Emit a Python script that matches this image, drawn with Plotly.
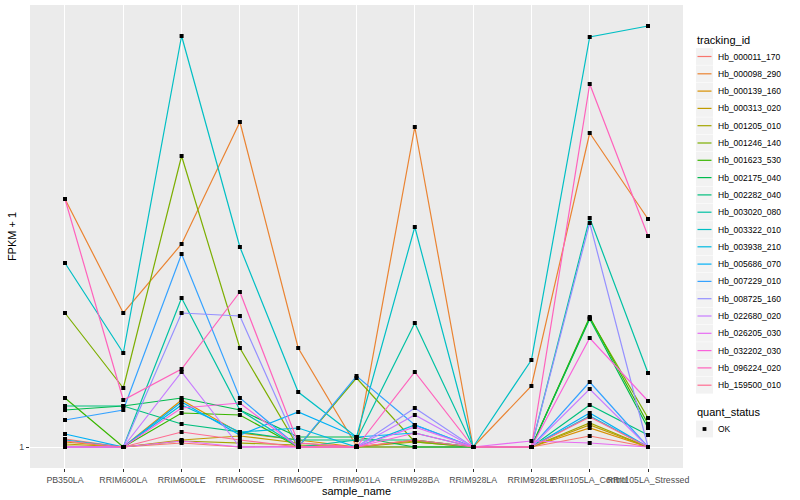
import plotly.graph_objects as go

samples = ["PB350LA", "RRIM600LA", "RRIM600LE", "RRIM600SE", "RRIM600PE", "RRIM901LA",
           "RRIM928BA", "RRIM928LA", "RRIM928LE", "RRII105LA_Control", "RRII105LA_Stressed"]

tracking_ids = ["Hb_000011_170", "Hb_000098_290", "Hb_000139_160", "Hb_000313_020", "Hb_001205_010",
                "Hb_001246_140", "Hb_001623_530", "Hb_002175_040", "Hb_002282_040", "Hb_003020_080",
                "Hb_003322_010", "Hb_003938_210", "Hb_005686_070", "Hb_007229_010", "Hb_008725_160",
                "Hb_022680_020", "Hb_026205_030", "Hb_032202_030", "Hb_096224_020", "Hb_159500_010"]

colors = ["#F8766D", "#EA8331", "#D89000", "#C09B00", "#A3A500", "#7CAE00", "#39B600", "#00BB4E",
          "#00BF7D", "#00C1A3", "#00BFC4", "#00BAE0", "#00B0F6", "#35A2FF", "#9590FF", "#C77CFF",
          "#E76BF3", "#FA62DB", "#FF62BC", "#FF6C91"]

Hb_000011_170 = [1.8, 1, 1.4, 1, 1.1, 1, 1, 1, 1, 2.1, 1]
Hb_000098_290 = [25.8, 14.4, 21.3, 33.5, 10.9, 1.1, 33.0, 1, 7.1, 32.4, 23.8]
Hb_000139_160 = [1.5, 1, 5.7, 2.4, 1.7, 1, 1.7, 1, 1, 2.9, 1]
Hb_000313_020 = [1.3, 1, 1.7, 2.1, 1.4, 1, 1.6, 1, 1, 3.2, 1]
Hb_001205_010 = [1.1, 1, 1.6, 1.4, 1.2, 1, 1.5, 1, 1, 3.4, 1]
Hb_001246_140 = [14.4, 6.9, 30.1, 10.9, 1, 7.9, 1.5, 1, 1, 13.9, 3.9]
Hb_001623_530 = [5.9, 1, 4.4, 4.2, 1, 1, 1, 1, 1, 14.0, 3.3]
Hb_002175_040 = [4.7, 5.1, 5.9, 4.7, 2.0, 2.0, 1, 1, 1, 13.8, 2.9]
Hb_002282_040 = [5.1, 5.1, 3.3, 2.5, 1.7, 1.7, 1.7, 1, 1, 5.2, 2.2]
Hb_003020_080 = [1, 1, 15.9, 4.7, 1, 1.7, 13.4, 1, 1, 23.9, 8.4]
Hb_003322_010 = [19.4, 10.4, 42.1, 21.0, 6.5, 2.0, 23.0, 1, 9.7, 42.0, 43.1]
Hb_003938_210 = [1.7, 1, 5.2, 2.5, 2.9, 1, 3.2, 1, 1, 4.1, 1]
Hb_005686_070 = [2.3, 1, 5.5, 2.2, 4.5, 2.0, 2.4, 1, 1, 4.4, 1]
Hb_007229_010 = [3.7, 4.7, 20.3, 5.9, 1, 8.1, 3.2, 1, 1, 7.5, 1]
Hb_008725_160 = [1, 1, 14.4, 14.1, 1, 1, 4.9, 1, 1, 23.4, 1]
Hb_022680_020 = [1, 1, 8.5, 1, 1, 1, 4.2, 1, 1, 6.8, 1]
Hb_026205_030 = [1, 1, 1.6, 1, 1, 1, 3.0, 1, 1.6, 1.4, 1]
Hb_032202_030 = [1, 1, 4.9, 5.4, 1, 1, 2.4, 1, 1, 11.9, 5.6]
Hb_096224_020 = [25.8, 5.7, 8.8, 16.5, 1.4, 1, 8.5, 1, 1, 37.3, 22.1]
Hb_159500_010 = [1.6, 1, 2.5, 1.7, 1, 1, 1.7, 1, 1, 4.0, 1]

series = [Hb_000011_170, Hb_000098_290, Hb_000139_160, Hb_000313_020, Hb_001205_010,
          Hb_001246_140, Hb_001623_530, Hb_002175_040, Hb_002282_040, Hb_003020_080,
          Hb_003322_010, Hb_003938_210, Hb_005686_070, Hb_007229_010, Hb_008725_160,
          Hb_022680_020, Hb_026205_030, Hb_032202_030, Hb_096224_020, Hb_159500_010]

quant_status = ["OK"]

# geometry of the plotting panel in pixels (used only to place the hand-built legend)
W, H = 800, 500
ML, MR, MT, MB = 30, 117, 5, 32
PW, PH = W - ML - MR, H - MT - MB


def px(xp):
    return (xp - ML) / PW


def py(yp):
    return (H - MB - yp) / PH


fig = go.Figure()
for name, col, vals in zip(tracking_ids, colors, series):
    fig.add_trace(go.Scatter(x=samples, y=vals, mode="lines", name=name, showlegend=False,
                             line=dict(color=col, width=1.2)))
for name, vals in zip(tracking_ids, series):
    fig.add_trace(go.Scatter(x=samples, y=vals, mode="markers", showlegend=False,
                             marker=dict(color="black", symbol="square", size=4)))

shapes = []
annotations = []
# tracking_id legend
annotations.append(dict(x=px(695), y=py(40), xref="paper", yref="paper", text="tracking_id",
                        showarrow=False, xanchor="left", yanchor="middle",
                        font=dict(size=11, color="black")))
y0 = 56.5
step = 17.3
for i, (name, col) in enumerate(zip(tracking_ids, colors)):
    yc = y0 + i * step
    shapes.append(dict(type="rect", xref="paper", yref="paper", x0=px(696), x1=px(713),
                       y0=py(yc - 8.4), y1=py(yc + 8.4), fillcolor="#F2F2F2",
                       line=dict(width=0), layer="below"))
    shapes.append(dict(type="line", xref="paper", yref="paper", x0=px(697.5), x1=px(711.5),
                       y0=py(yc), y1=py(yc), line=dict(color=col, width=1.2)))
    annotations.append(dict(x=px(716), y=py(yc), xref="paper", yref="paper", text=name,
                            showarrow=False, xanchor="left", yanchor="middle",
                            font=dict(size=8.5, color="black")))
# quant_status legend
annotations.append(dict(x=px(695), y=py(412), xref="paper", yref="paper", text="quant_status",
                        showarrow=False, xanchor="left", yanchor="middle",
                        font=dict(size=11, color="black")))
shapes.append(dict(type="rect", xref="paper", yref="paper", x0=px(696), x1=px(713),
                   y0=py(429 - 8.4), y1=py(429 + 8.4), fillcolor="#F2F2F2",
                   line=dict(width=0), layer="below"))
shapes.append(dict(type="rect", xref="paper", yref="paper", x0=px(702.6), x1=px(706.4),
                   y0=py(427.1), y1=py(430.9), fillcolor="black", line=dict(width=0)))
annotations.append(dict(x=px(716), y=py(429), xref="paper", yref="paper", text=quant_status[0],
                        showarrow=False, xanchor="left", yanchor="middle",
                        font=dict(size=8.5, color="black")))

fig.update_layout(
    width=W, height=H,
    margin=dict(l=ML, r=MR, t=MT, b=MB),
    paper_bgcolor="white", plot_bgcolor="#EBEBEB",
    font=dict(family="Liberation Sans, Arial, sans-serif", size=9, color="black"),
    showlegend=False,
    shapes=shapes, annotations=annotations,
    xaxis=dict(title=dict(text="sample_name", font=dict(size=11), standoff=0),
               range=[-0.6, 10.6], showgrid=True, gridcolor="white", gridwidth=1.1,
               tickfont=dict(size=8.8, color="#4D4D4D"), tickangle=0, ticks="outside", ticklen=3,
               tickcolor="#333333", zeroline=False, showline=False, automargin=False),
    yaxis=dict(title=dict(text="FPKM + 1", font=dict(size=11), standoff=0),
               range=[-1.1, 45.2], tickvals=[1], ticktext=["1"], showgrid=True,
               gridcolor="white", gridwidth=1.1, tickfont=dict(size=8.8, color="#4D4D4D"),
               ticks="outside", ticklen=3, tickcolor="#333333", zeroline=False, automargin=False),
)

fig.write_html("out.html", config={"displayModeBar": False},
               post_script="document.body.style.margin='0';document.body.style.padding='0';")
